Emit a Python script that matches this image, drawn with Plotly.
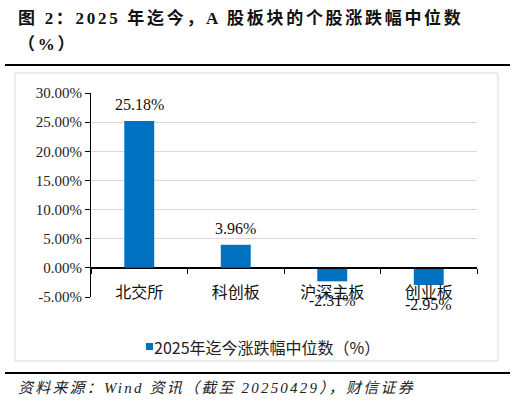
import plotly.graph_objects as go

categories = ["北交所", "科创板", "沪深主板", "创业板"]
values = [25.18, 3.96, -2.31, -2.95]
value_labels = ["25.18%", "3.96%", "-2.31%", "-2.95%"]
series_name = "2025年迄今涨跌幅中位数（%）"
y_ticks = [30, 25, 20, 15, 10, 5, 0, -5]
y_tick_labels = ["30.00%", "25.00%", "20.00%", "15.00%", "10.00%", "5.00%", "0.00%", "-5.00%"]
title_line1 = "图 2：2025 年迄今，A 股板块的个股涨跌幅中位数"
title_line2 = "（%）"
source_text = "资料来源：Wind 资讯（截至 20250429），财信证券"

W, H = 516, 405
L, R, T, B = 91, 477, 93, 297
ymin, ymax = -5, 30

def px_x(x):
    return (x - L) / (R - L)

def px_y(y):
    return (B - y) / (B - T)

SERIF = "Liberation Serif, Times New Roman, serif"
CJK_SERIF = "Liberation Serif, Noto Sans CJK SC, serif"
SANS = "Noto Sans CJK SC, sans-serif"
BLUE = "#0070C0"

fig = go.Figure()
fig.add_trace(go.Bar(
    x=categories, y=values, name=series_name,
    marker=dict(color=BLUE, line=dict(width=0)),
    width=0.31, showlegend=False, hoverinfo="skip",
))

# value labels
for c, v, t in zip(categories, values, value_labels):
    fig.add_annotation(x=c, y=v, text=t, showarrow=False,
                       yanchor="bottom" if v >= 0 else "top",
                       yshift=6 if v >= 0 else -9,
                       font=dict(family=SERIF, size=16, color="#111"))

fig.update_layout(
    width=W, height=H,
    margin=dict(l=L, r=W - R, t=T, b=H - B),
    paper_bgcolor="white", plot_bgcolor="white",
    showlegend=False,
)

fig.update_yaxes(
    range=[ymin, ymax], tickvals=y_ticks, ticktext=y_tick_labels,
    showgrid=True, gridcolor="#D9D9D9", gridwidth=1,
    showline=True, linecolor="#000", linewidth=1,
    ticks="outside", ticklen=5, tickcolor="#000",
    tickfont=dict(family=SERIF, size=15, color="#222"),
    zeroline=True, zerolinecolor="#000", zerolinewidth=1,
)
fig.update_xaxes(
    anchor="free", position=(0 - ymin) / (ymax - ymin),
    showline=True, linecolor="#000", linewidth=1,
    ticks="outside", ticklen=5, tickcolor="#000", tickson="boundaries",
    tickfont=dict(family=SANS, size=16, color="#111"),
    ticklabelstandoff=10,
    showgrid=False,
)

# chart frame and rules
fig.add_shape(type="rect", xref="paper", yref="paper",
              x0=px_x(15), x1=px_x(498), y0=px_y(361), y1=px_y(73),
              line=dict(color="#D9D9D9", width=1), layer="below")
for yy in (65, 373):
    fig.add_shape(type="line", xref="paper", yref="paper",
                  x0=px_x(5), x1=px_x(510), y0=px_y(yy), y1=px_y(yy),
                  line=dict(color="#000", width=2))

# legend (manual)
fig.add_shape(type="rect", xref="paper", yref="paper",
              x0=px_x(146), x1=px_x(153), y0=px_y(350), y1=px_y(343),
              fillcolor=BLUE, line=dict(width=0))
fig.add_annotation(text=series_name, xref="paper", yref="paper",
                   x=px_x(152), y=px_y(347), xanchor="left", yanchor="middle",
                   showarrow=False, font=dict(family=SANS, size=16, color="#222"))

fig.add_annotation(text='<b><span style="letter-spacing:2.7px">' + title_line1 + "</span></b>",
                   xref="paper", yref="paper",
                   x=px_x(16), y=px_y(18), xanchor="left", yanchor="middle",
                   showarrow=False, font=dict(family=CJK_SERIF, size=17, color="#111"))
fig.add_annotation(text='<b><span style="letter-spacing:2.7px">' + title_line2 + "</span></b>",
                   xref="paper", yref="paper",
                   x=px_x(16), y=px_y(45), xanchor="left", yanchor="middle",
                   showarrow=False, font=dict(family=CJK_SERIF, size=17, color="#111"))
fig.add_annotation(text='<i><span style="letter-spacing:2.2px">' + source_text + "</span></i>",
                   xref="paper", yref="paper",
                   x=px_x(16), y=px_y(388), xanchor="left", yanchor="middle",
                   showarrow=False, font=dict(family=CJK_SERIF, size=15, color="#222"))

fig.write_html("out.html", config={"displayModeBar": False},
               post_script="document.body.style.margin='0px';")
